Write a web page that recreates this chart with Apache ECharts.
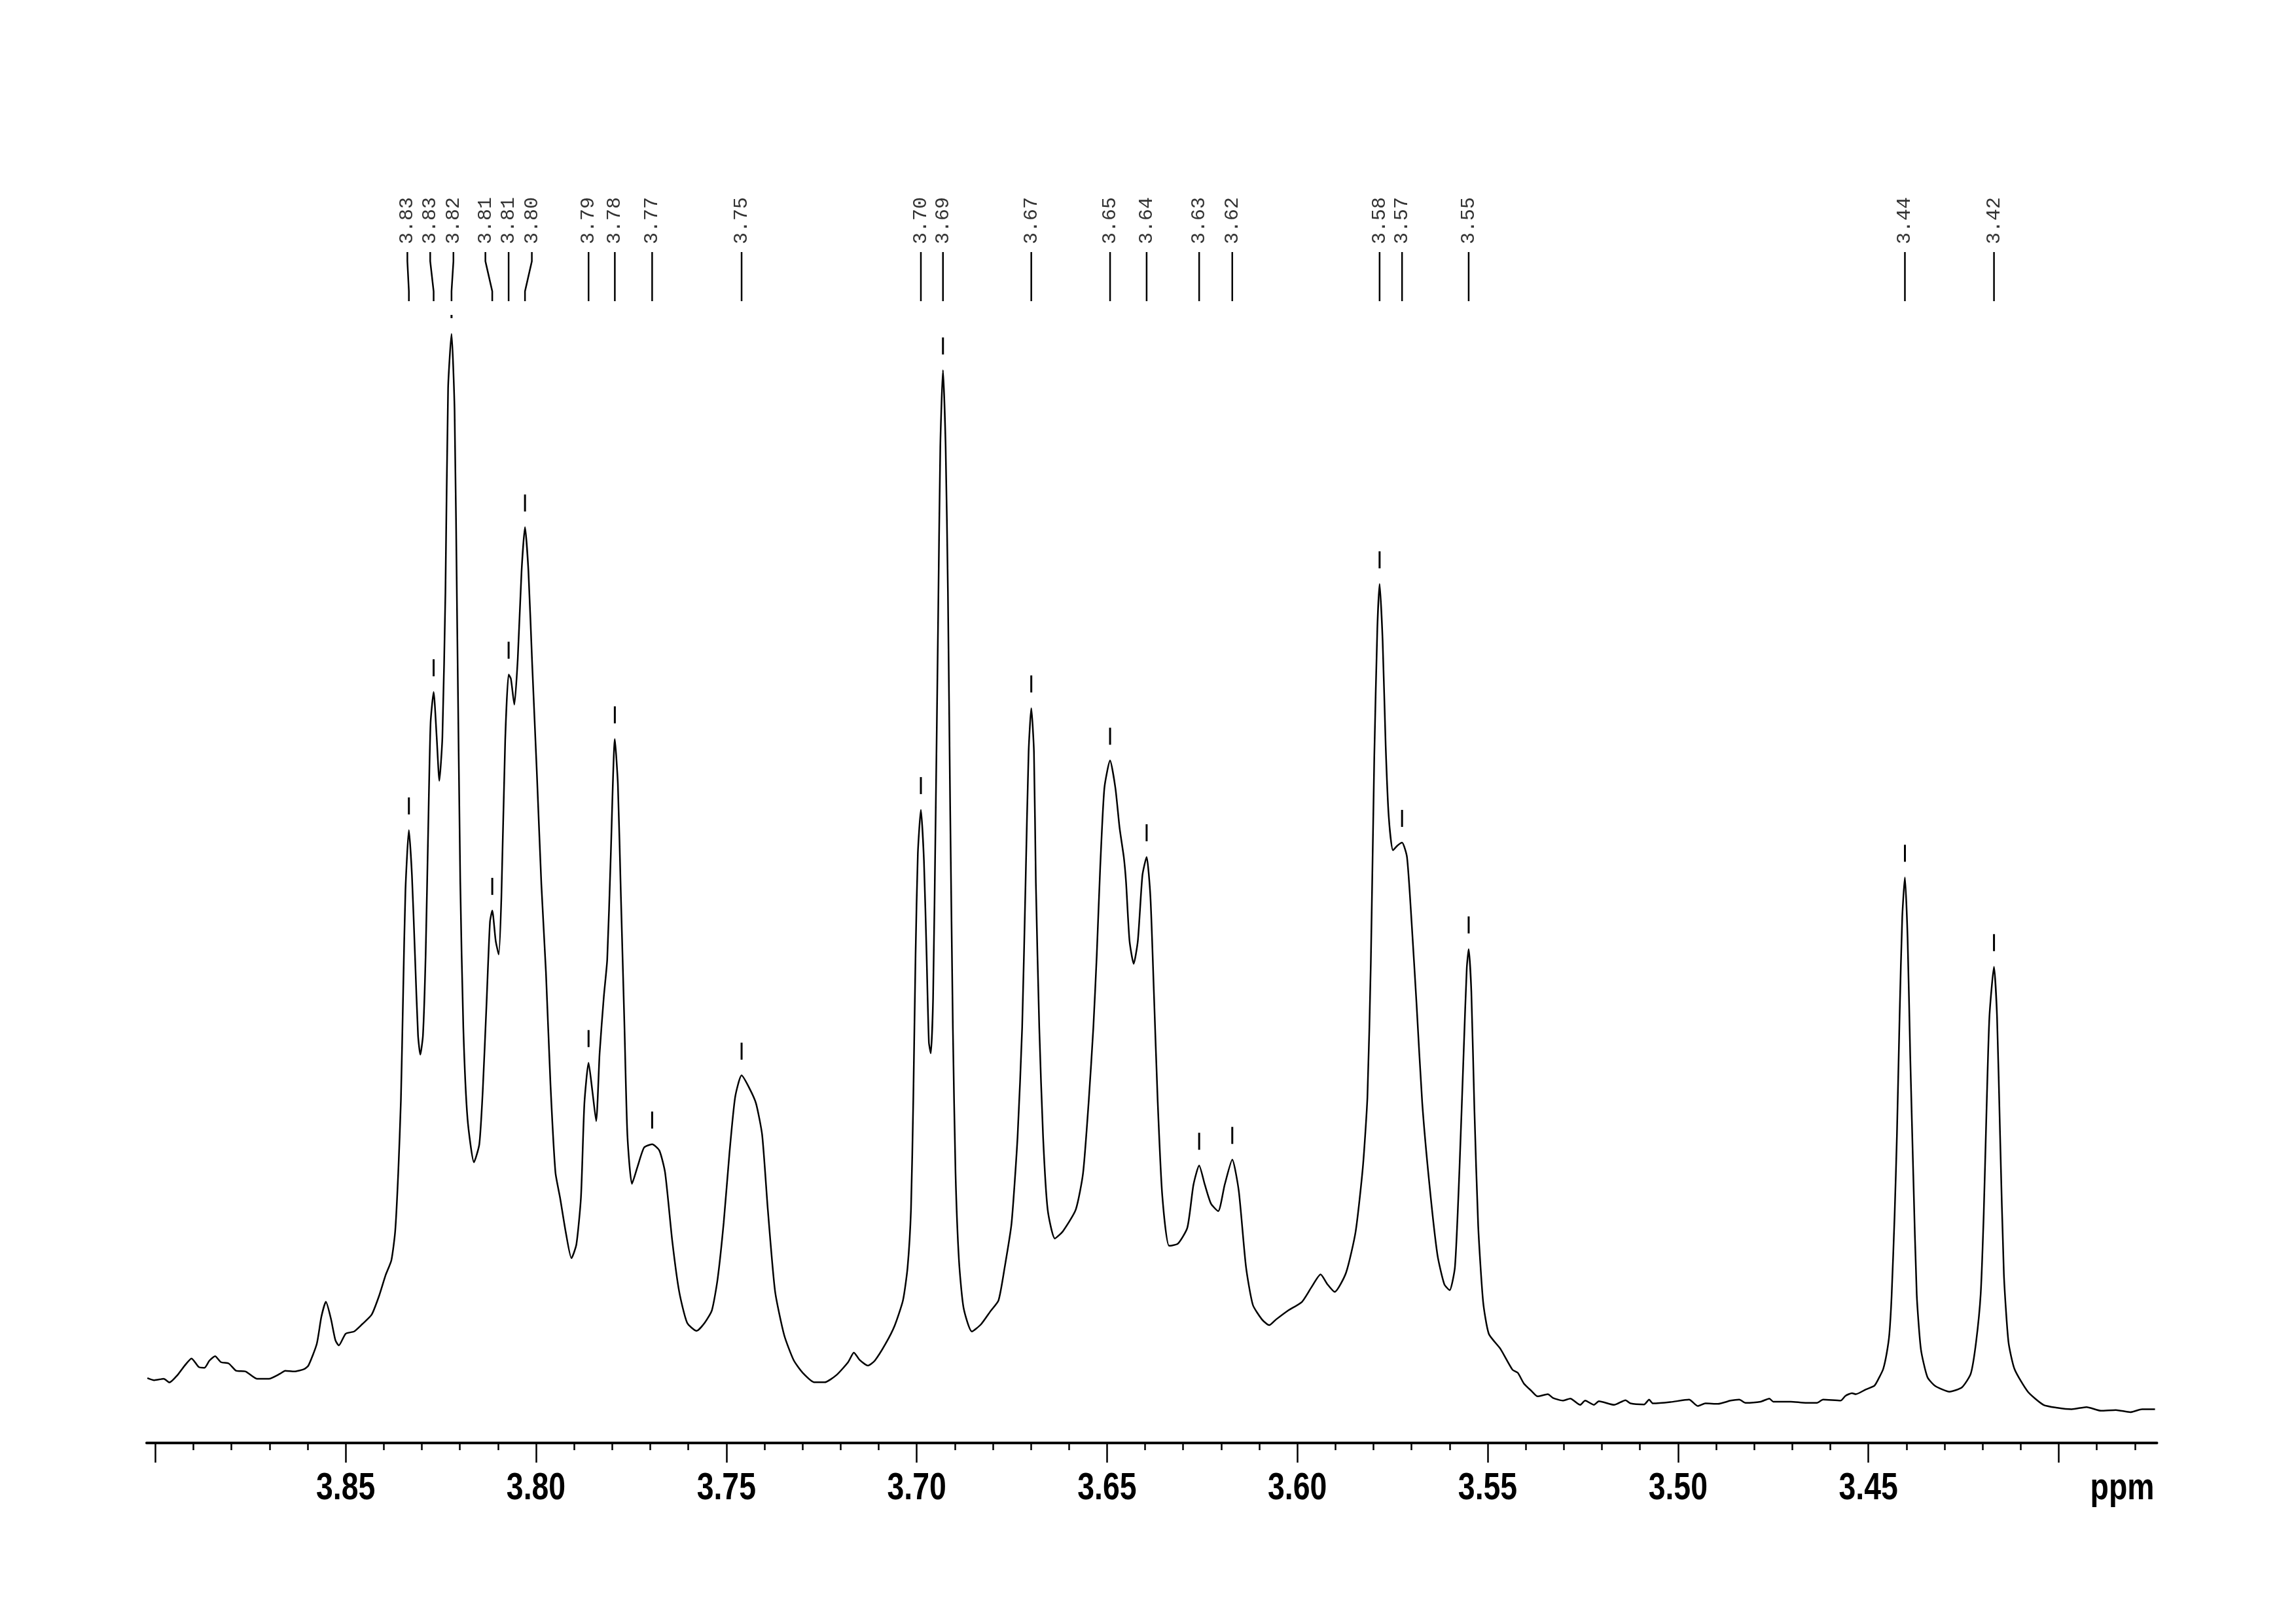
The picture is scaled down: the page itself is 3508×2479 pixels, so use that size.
<!DOCTYPE html>
<html><head><meta charset="utf-8">
<script src="https://cdn.jsdelivr.net/npm/echarts/dist/echarts.min.js"></script>
<style>html,body{margin:0;padding:0;background:#fff}#c{width:3508px;height:2479px}</style>
</head><body><div id="c"></div>
<script>
// chemical shift (ppm) of each sampled point of the trace
const ppm = [
3.9021,3.9003,3.8978,3.8963,3.8942,3.8923,3.8905,3.8886,3.8871,3.8858,
3.8843,3.8828,3.8807,3.8788,3.8763,3.8733,3.8702,3.8672,3.8659,3.8635,
3.8610,3.8598,3.8576,3.8564,3.8552,3.8539,3.8527,3.8518,3.8500,3.8478,
3.8457,3.8432,3.8413,3.8395,3.8380,3.8370,3.8362,3.8355,3.8349,3.8343,
3.8334,3.8326,3.8318,3.8310,3.8304,3.8297,3.8290,3.8283,3.8277,3.8269,
3.8261,3.8254,3.8246,3.8238,3.8231,3.8222,3.8214,3.8207,3.8199,3.8191,
3.8180,3.8163,3.8149,3.8140,3.8130,3.8121,3.8115,3.8106,3.8098,3.8091,
3.8081,3.8072,3.8066,3.8057,3.8048,3.8038,3.8029,3.8020,3.8010,3.7998,
3.7986,3.7974,3.7962,3.7949,3.7937,3.7922,3.7907,3.7894,3.7882,3.7873,
3.7862,3.7852,3.7842,3.7833,3.7822,3.7813,3.7804,3.7793,3.7785,3.7777,
3.7768,3.7760,3.7748,3.7733,3.7716,3.7695,3.7676,3.7661,3.7642,3.7624,
3.7603,3.7578,3.7557,3.7538,3.7523,3.7507,3.7492,3.7477,3.7460,3.7440,
3.7422,3.7406,3.7391,3.7372,3.7348,3.7323,3.7299,3.7268,3.7242,3.7211,
3.7180,3.7165,3.7150,3.7128,3.7110,3.7082,3.7058,3.7036,3.7024,3.7015,
3.7009,3.7003,3.6997,3.6989,3.6981,3.6974,3.6968,3.6963,3.6957,3.6950,
3.6944,3.6938,3.6931,3.6924,3.6918,3.6912,3.6905,3.6898,3.6889,3.6877,
3.6855,3.6831,3.6806,3.6785,3.6769,3.6751,3.6735,3.6723,3.6714,3.6706,
3.6699,3.6692,3.6687,3.6678,3.6668,3.6656,3.6637,3.6616,3.6582,3.6563,
3.6548,3.6536,3.6527,3.6518,3.6507,3.6492,3.6478,3.6467,3.6456,3.6450,
3.6441,3.6430,3.6419,3.6407,3.6396,3.6386,3.6377,3.6367,3.6355,3.6337,
3.6314,3.6289,3.6273,3.6258,3.6243,3.6227,3.6208,3.6191,3.6171,3.6154,
3.6135,3.6117,3.6093,3.6074,3.6056,3.6025,3.5988,3.5963,3.5939,3.5921,
3.5902,3.5872,3.5847,3.5828,3.5816,3.5807,3.5798,3.5790,3.5784,3.5776,
3.5768,3.5760,3.5749,3.5737,3.5725,3.5712,3.5700,3.5687,3.5672,3.5653,
3.5632,3.5614,3.5600,3.5586,3.5574,3.5563,3.5555,3.5550,3.5543,3.5535,
3.5525,3.5512,3.5497,3.5467,3.5435,3.5421,3.5405,3.5385,3.5369,3.5342,
3.5329,3.5303,3.5283,3.5257,3.5244,3.5221,3.5208,3.5168,3.5138,3.5125,
3.5089,3.5076,3.5066,3.5020,3.4971,3.4948,3.4928,3.4895,3.4862,3.4839,
3.4823,3.4783,3.4760,3.4750,3.4704,3.4665,3.4635,3.4619,3.4573,3.4560,
3.4543,3.4533,3.4507,3.4484,3.4471,3.4461,3.4452,3.4445,3.4439,3.4431,
3.4425,3.4418,3.4411,3.4404,3.4397,3.4390,3.4382,3.4373,3.4362,3.4345,
3.4325,3.4287,3.4254,3.4231,3.4217,3.4205,3.4197,3.4190,3.4182,3.4170,
3.4162,3.4154,3.4144,3.4132,3.4116,3.4081,3.4040,3.4004,3.3966,3.3927,
3.3889,3.3850,3.3812,3.3781,3.3747
];
// signal intensity (arbitrary units) at each point
const intensity = [
44.3,42.8,43.8,41.3,46.3,52.8,57.7,51.8,51.3,56.2,
59.2,55.2,54.2,49.3,48.8,43.8,43.8,47.3,49.3,48.8,
50.3,52.8,67.6,86,96.4,85,70.1,66.6,74.6,76.1,
81,87.5,99.9,114.7,124.7,144.5,184.2,233.8,308.2,377.6,
418.3,387.6,333,278.4,265,278.4,333,422.3,491.7,512.6,
481.8,452,481.8,581,719.9,757.1,705,556.2,382.6,283.4,
221.4,191.6,203.9,240.2,300.1,355.7,363.4,342.8,333.4,372.8,
479.7,524.6,521.6,504,535.3,595.1,625.1,595.1,531,458.3,
381.3,321.5,244.5,184.6,167.6,144,126.1,135.5,167.6,231.7,
259.5,240.2,219.7,265.9,304.4,330,398.4,480.5,449.7,372.8,
287.3,210.3,176.9,188.9,201.7,203.9,199.6,184.6,137.6,103.4,
82,76.5,82,90.6,111.9,150.4,197.5,235.9,250.9,242.4,
231.7,210.3,159,103.4,73.5,56.4,47.8,41.4,41.4,46.3,
55.2,61.7,56.7,52.8,56.2,67.6,80,97.4,119.7,159.4,
233.8,333,402.4,432.2,397.5,333,273.5,266,303.2,432.2,
556.2,680.2,732.3,680.2,581,432.2,283.4,184.2,124.7,92.4,
76.1,81,90,97.4,119.7,149.5,209,283.4,382.6,471.9,
501.6,471.9,382.6,283.4,209,159.4,139.6,144.5,159.4,184.2,
233.8,283.4,333,392.5,447,465.9,447,419.8,400,382.6,
343,327.1,343,387.6,400,372.7,308.2,233.8,169.3,134.6,
136,147,176.2,189.4,176.2,163.4,158.2,176.2,193.4,172.2,
120.3,94.3,84.3,80.4,84.3,90.3,96.3,106.3,115.1,108.3,
103.1,116.3,144.2,188.2,236.1,328,467.7,555.5,586.3,547.5,
475.7,427.7,404.6,407.8,409.8,399.8,355.9,300,232.1,176.2,
128.3,108.3,104.3,120.3,188.2,268,324,337.1,308,228,
148.2,96.3,74.4,64.4,50,47.9,40.6,35.5,31.8,33.3,
30.8,28.9,30.3,26,28.9,26,28.5,26,29.2,27,
26.3,29.6,27,27.9,29.6,25.2,27,26.7,28.9,29.6,
27.4,28.2,30.3,28.2,28.2,27.4,27.4,29.6,28.9,32.2,
34,33.3,36.5,39.1,45,50.5,61,74,100,156,
210,291,359,386,345,264,183,101.5,64,45,
39,35,38,47.3,69,101.5,156,223.4,291,325,
291,210,115,69,50.4,35,26,24,23,24.5,
22,22.5,21,23,23
];
// picked peaks: position of the peak, position of its label, label text
const peakPpm = [3.8334,3.8269,3.8222,3.8115,3.8072,3.8029,3.7862,3.7793,3.7695,3.7460,
  3.6989,3.6931,3.6699,3.6492,3.6396,3.6258,3.6171,3.5784,3.5725,3.5550,3.4404,3.4170];
const labelPpm = [3.8338,3.8278,3.8217,3.8133,3.8072,3.8011,3.7862,3.7793,3.7695,3.7460,
  3.6989,3.6931,3.6699,3.6492,3.6396,3.6258,3.6171,3.5784,3.5725,3.5550,3.4404,3.4170];
const peakLabels = ['3.83','3.83','3.82','3.81','3.81','3.80','3.79','3.78','3.77','3.75',
  '3.70','3.69','3.67','3.65','3.64','3.63','3.62','3.58','3.57','3.55','3.44','3.42'];
// axis
const majorTicks = [3.40,3.45,3.50,3.55,3.60,3.65,3.70,3.75,3.80,3.85,3.90];
const minorTicks = [3.38,3.39,3.40,3.41,3.42,3.43,3.44,3.45,3.46,3.47,3.48,3.49,3.50,3.51,3.52,3.53,3.54,3.55,
  3.56,3.57,3.58,3.59,3.60,3.61,3.62,3.63,3.64,3.65,3.66,3.67,3.68,3.69,3.70,3.71,3.72,3.73,3.74,3.75,
  3.76,3.77,3.78,3.79,3.80,3.81,3.82,3.83,3.84,3.85,3.86,3.87,3.88,3.89,3.90];
const tickLabelValues = [3.45,3.50,3.55,3.60,3.65,3.70,3.75,3.80,3.85];
const tickLabelTexts = ['3.45','3.50','3.55','3.60','3.65','3.70','3.75','3.80','3.85'];
const unitLabel = 'ppm';
const unitLabelPpm = 3.3833;
const axisMin = 3.3742, axisMax = 3.9023;

const trace = ppm.map((p, i) => [p, intensity[i]]);
function heightAt(p) {
  let best = 0, d = Infinity;
  for (let i = 0; i < ppm.length; i++) { const e = Math.abs(ppm[i] - p); if (e < d) { d = e; best = i; } }
  return intensity[best];
}
const peakData = peakPpm.map((p, i) => [labelPpm[i], p, heightAt(p)]);
const axisTextData = tickLabelValues.map(v => [v, 0]).concat([[unitLabelPpm, 0]]);
const axisTexts = tickLabelTexts.concat([unitLabel]);

const chart = echarts.init(document.getElementById('c'), null, {renderer: 'canvas'});
chart.setOption({
  animation: false,
  backgroundColor: '#ffffff',
  grid: {left: 224, right: 212.5, top: 0, bottom: 275, containLabel: false},
  xAxis: [{
    type: 'value', inverse: true, min: axisMin, max: axisMax, position: 'bottom',
    axisLine: {show: true, onZero: false, lineStyle: {color: '#000', width: 4}},
    axisTick: {show: true, length: 30, lineStyle: {color: '#000', width: 2.5}, customValues: majorTicks},
    axisLabel: {show: false},
    splitLine: {show: false}
  }, {
    type: 'value', inverse: true, min: axisMin, max: axisMax, position: 'bottom',
    axisLine: {show: false},
    axisTick: {show: true, length: 11, lineStyle: {color: '#000', width: 2.5}, customValues: minorTicks},
    axisLabel: {show: false},
    splitLine: {show: false}
  }],
  yAxis: {type: 'value', min: 0, max: 985, show: false},
  series: [{
    type: 'line', data: trace, xAxisIndex: 0, yAxisIndex: 0,
    showSymbol: false, symbol: 'none', smooth: 0.2,
    lineStyle: {color: '#000', width: 2.5}, z: 3
  }, {
    type: 'custom', data: peakData, xAxisIndex: 0, yAxisIndex: 0, clip: false,
    encode: {x: [0, 1], y: 2},
    renderItem: function (params, api) {
      const i = params.dataIndex;
      const top = api.coord([api.value(0), 0]);
      const bot = api.coord([api.value(1), api.value(2)]);
      const xT = top[0], xB = bot[0], yP = bot[1];
      const children = [{
        type: 'polyline',
        shape: {points: [[xT, 385], [xT, 399], [xB, 445], [xB, 460]]},
        style: {stroke: '#000', lineWidth: 2.5, fill: null}
      }, {
        type: 'text', x: xT, y: 373, rotation: Math.PI / 2,
        style: {text: peakLabels[i], fontSize: 30, fontFamily: "'Liberation Mono', 'DejaVu Sans Mono', monospace",
          fill: '#333', align: 'left', verticalAlign: 'middle'}
      }];
      const y2 = yP - 24, y1 = Math.max(yP - 50, 481);
      if (y2 > y1) {
        children.push({type: 'line', shape: {x1: xB, y1: y1, x2: xB, y2: y2}, style: {stroke: '#000', lineWidth: 3}});
      }
      return {type: 'group', children: children};
    }
  }, {
    type: 'custom', data: axisTextData, xAxisIndex: 0, yAxisIndex: 0, clip: false,
    encode: {x: 0, y: 1},
    renderItem: function (params, api) {
      const p = api.coord([api.value(0), 0]);
      return {
        type: 'text', x: p[0], y: 2274, scaleX: 0.8, scaleY: 1,
        style: {text: axisTexts[params.dataIndex], fontSize: 58, fontWeight: 'bold',
          fontFamily: "'Liberation Sans', Arial, sans-serif", fill: '#000', align: 'center', verticalAlign: 'middle'}
      };
    }
  }]
});
</script>
</body></html>
